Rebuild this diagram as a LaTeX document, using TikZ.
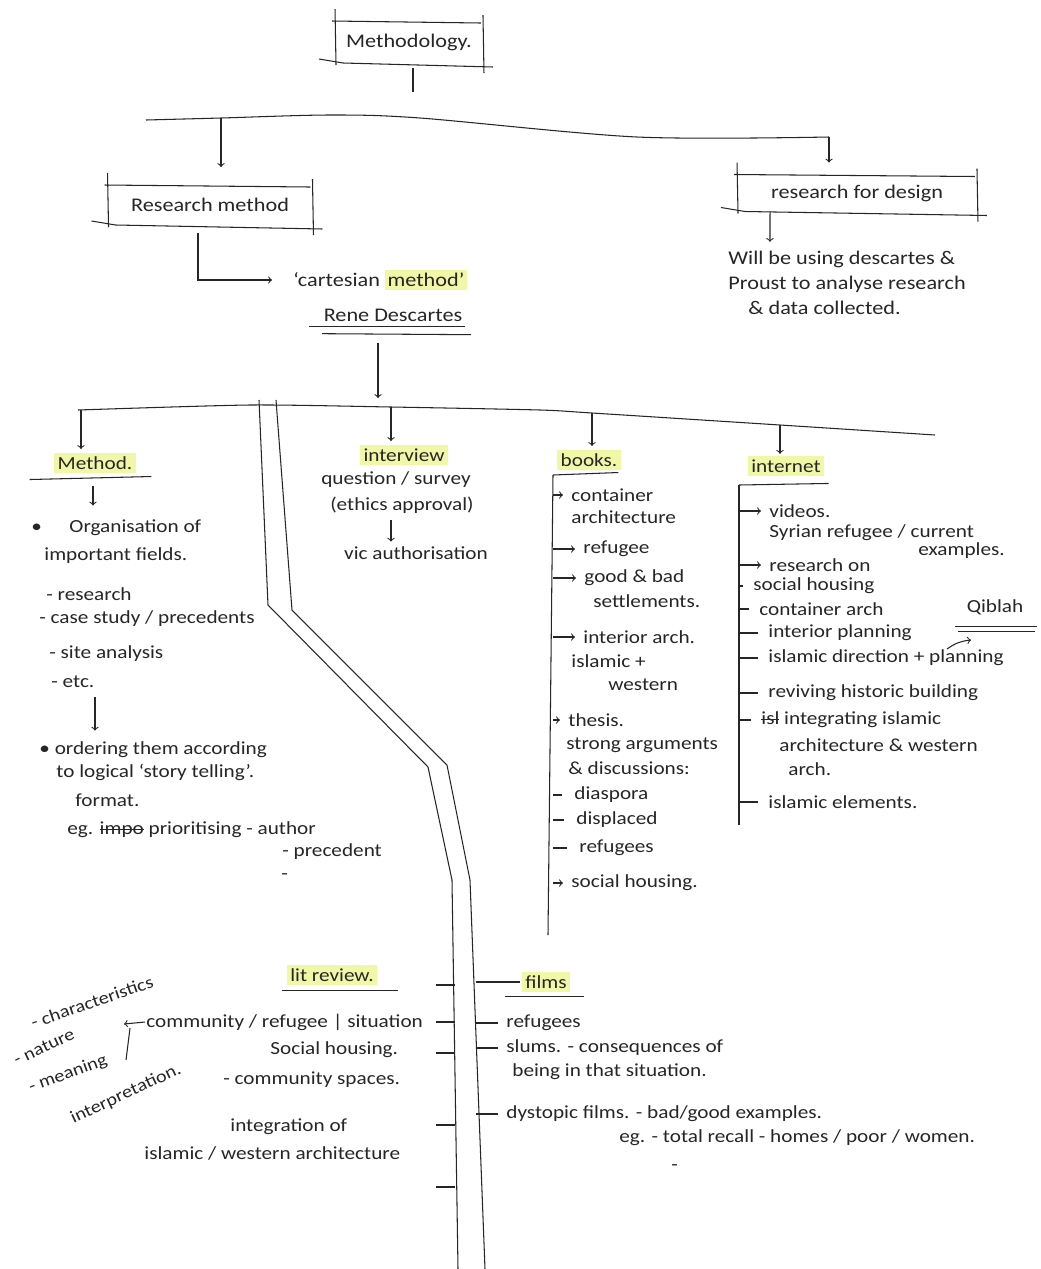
\documentclass[tikz,border=0pt]{standalone}
\usepackage{fontspec}
\setmainfont{Carlito}[FakeStretch=1.15]
\usepackage{tikz}
\usetikzlibrary{positioning}
\definecolor{ink}{RGB}{38,38,38}
\definecolor{hilite}{RGB}{240,248,168}
\newcommand{\handsize}{\fontsize{10.5pt}{12.5pt}\selectfont}
\newcommand{\marked}[1]{{\setlength{\fboxsep}{1.5pt}\colorbox{hilite}{#1}}}
\newsavebox{\strikebox}
\newcommand{\struck}[1]{\sbox{\strikebox}{#1}\rlap{\rule[0.55ex]{\wd\strikebox}{0.6pt}}\usebox{\strikebox}}
\newcommand{\roughbox}[1]{%
  \draw ([shift={(0,-12)}]#1.north west) -- ([shift={(1,2)}]#1.south west);
  \draw ([shift={(-3,0)}]#1.north west) -- ([shift={(-2,2)}]#1.north east);
  \draw ([shift={(0,-6)}]#1.north east) -- ([shift={(1,10)}]#1.south east);
  \draw ([shift={(-16,-4)}]#1.south west) -- ([shift={(8,0)}]#1.south west) -- ([shift={(10,4)}]#1.south east);
}
\begin{document}
\begin{tikzpicture}[x=0.02cm,y=-0.02cm,color=ink,line width=0.6pt,
note/.style={font=\handsize,inner sep=0.5pt,anchor=west},
mid note/.style={font=\handsize,inner sep=0.5pt},
slant note/.style={font=\fontsize{10pt}{12pt}\selectfont,inner sep=0pt},
tag/.style={font=\handsize,fill=hilite,inner sep=2pt},
rough box/.style={font=\fontsize{11pt}{13pt}\selectfont,inner sep=0,outer sep=0}]
\useasboundingbox (0,0) rectangle (1041,1269);
\fill[white] (0,0) rectangle (1041,1269);
%==================
\node[rough box,minimum width=2.96cm,minimum height=0.84cm] (meth) at (409,42) {Methodology.};
\roughbox{meth}
\draw ([shift={(4,5)}]meth.south) -- ([shift={(4,29)}]meth.south);
\coordinate (busA) at (221,118);
\coordinate (busB) at (829,137);
\draw plot[smooth,tension=0.5] coordinates {(146,120) (busA) (330,115) (420,118) (637,137) (busB)};
\node[rough box,minimum width=4.1cm,minimum height=0.8cm] (resm) at (210,205) {Research method};
\roughbox{resm}
\node[rough box,minimum width=4.8cm,minimum height=0.74cm] (rfd) at (857,193) {research for design};
\roughbox{rfd}
\draw[->,shorten >=0.36cm] (busA) -- (busA |- resm.north);
\draw[->,shorten >=0.24cm] (busB) -- (busB |- rfd.north);
\node[note,align=left,font=\fontsize{11pt}{14.2pt}\selectfont] (will) at (727,283) {Will be using descartes \& \\ Proust to analyse research \\ \hspace*{0.4cm}\& data collected.};
\draw[->] ([shift={(33,0)}]rfd.south west) -- ([shift={(43,-8)}]will.north west);
%==================
\node[note,font=\fontsize{11pt}{13pt}\selectfont] (cart) at (292,280) {`cartesian \marked{method'}};
\node[mid note,font=\fontsize{11pt}{13pt}\selectfont] (rene) at (393,315) {Rene Descartes};
\draw[->] ([shift={(-12,8)}]resm.south) |- ([xshift=-0.4cm]cart.west);
\draw ([shift={(-84,4)}]rene.south) -- ([shift={(72,4)}]rene.south);
\draw ([shift={(-71,11)}]rene.south) -- ([shift={(78,12)}]rene.south);
\coordinate (busC) at (378,398);
\draw[->] ([shift={(-15,20)}]rene.south) -- (busC);
%==================
\coordinate (j1) at (81,410);
\coordinate (j2) at (391,407);
\coordinate (j3) at (592,413);
\coordinate (j4) at (780,425);
\draw plot[smooth,tension=0.4] coordinates {(78,410) (250,405) (j2) (540,410) (j3) (j4) (935,435)};
% road
\draw (259,400) -- (268,605) -- (428,767) -- (452,880) -- (458,1269);
\draw (276,400) -- (292,610) -- (447,765) -- (470,880) -- (485,1269);
\coordinate (roadL) at (455,880);
\coordinate (roadR) at (476,880);
%==================
\node[tag] (methd) at (95,463) {Method.};
\draw[->,shorten >=2pt] (j1) -- (j1 |- methd.north);
\draw ([shift={(-24,6)}]methd.south west) -- ([shift={(15,3)}]methd.south east);
\draw[->] ([shift={(-2,12)}]methd.south) -- ([shift={(-2,32)}]methd.south);
\foreach \x/\y/\t [count=\i] in {30/528/{\textbullet\hspace{0.55cm}Organisation of},
  43/556/{important fields.}, 45/594/{- research}, 38/619/{- case study / precedents},
  48/654/{- site analysis}, 50/682/{- etc.}, 38/750/{\textbullet\ ordering them according},
  55/772/{to logical `story telling'.}, 74/800/{format.},
  66/830/{eg. \struck{impo} prioritising - author}, 281/852/{- precedent}, 280/877/{-}}{
  \node[note] (m\i) at (\x,\y) {\t};
}
\draw[->] ([shift={(45,8)}]m6.south west) -- ([shift={(57,-10)}]m7.north west);
%==================
\node[tag] (intv) at (404,455) {interview};
\draw[->,shorten >=2pt] (j2) -- (j2 |- intv.north);
\node[mid note] (q1) at (396,480) {question / survey};
\node[mid note] (q2) at (402,505) {(ethics approval)};
\node[mid note] (q3) at (416,553) {vic authorisation};
\draw[->,shorten <=3pt,shorten >=2pt] (j2 |- q2.south) -- (j2 |- q3.north);
%==================
\node[tag] (bks) at (589,460) {books.};
\draw[->,shorten >=2pt] (j3) -- (j3 |- bks.north);
\coordinate (bkTop) at (553,475);
\coordinate (bkEnd) at (548,935);
\draw (bkTop) -- (bkEnd);
\draw (bkTop) -- ([shift={(-3,2)}]bks.south east);
\foreach \x/\y/\t [count=\i] in {570/495/container, 570/517/architecture, 582/549/refugee,
  583/578/{good \& bad}, 592/601/settlements., 582/637/{interior arch.}, 570/661/{islamic +},
  607/685/western, 567/720/thesis., 565/745/{strong arguments}, 567/768/{\& discussions:},
  573/795/diaspora, 575/820/displaced, 578/848/refugees, 570/883/{social housing.}}{
  \node[note] (bk\i) at (\x,\y) {\t};
}
\foreach \i in {1,3,4,6,9,15}
  \draw[->,shorten >=4pt] (bkTop |- bk\i.west) -- (bk\i.west);
\foreach \i in {12,13,14}
  \draw[shorten >=6pt] (bkTop |- bk\i.west) -- (bk\i.west);
%==================
\node[tag] (inet) at (786,466) {internet};
\draw[->,shorten >=1pt] (j4) -- (j4 |- inet.north);
\coordinate (inTop) at (739,485);
\coordinate (inEnd) at (739,825);
\draw (inTop) -- (inEnd);
\draw (inTop) -- ([shift={(4,7)}]inet.south east);
\foreach \x/\y/\t [count=\i] in {768/511/videos., 768/533/{Syrian refugee / current},
  917/551/examples., 768/565/{research on}, 752/586/{social housing}, 758/609/{container arch},
  767/633/{interior planning}, 767/658/{islamic direction + planning},
  767/693/{reviving historic building}, 760/720/{\struck{isl} integrating islamic},
  778/745/{architecture \& western}, 787/769/arch., 767/802/{islamic elements.}}{
  \node[note] (in\i) at (\x,\y) {\t};
}
\foreach \i in {1,4}
  \draw[->,shorten >=4pt] (inTop |- in\i.west) -- (in\i.west);
\foreach \i in {5,6,7,8,9,10,13}
  \draw[shorten >=5pt] (inTop |- in\i.west) -- (in\i.west);
\node[mid note] (qib) at (995,607) {Qiblah};
\draw ([shift={(-40,10)}]qib.south) -- ([shift={(42,10)}]qib.south);
\draw ([shift={(-37,15)}]qib.south) -- ([shift={(40,15)}]qib.south);
\draw[->] ([shift={(-58,-9)}]in8.east) to[bend left=15] ([shift={(-24,24)}]qib.south);
%==================
\node[tag] (lit) at (332,975) {lit review.};
\draw ([shift={(-50,5)}]lit.south) -- ([shift={(66,5)}]lit.south);
\node[tag] (flm) at (546,982) {films};
\draw[shorten >=1pt] (roadR |- flm.west) -- (flm.west);
\draw ([shift={(-41,4)}]flm.south) -- ([shift={(38,4)}]flm.south);
\node[note] (comm) at (145,1022) {community / refugee | situation};
\node[note] (soch) at (269,1050) {Social housing.};
\node[note] (csp) at (222,1080) {- community spaces.};
\node[note] (int1) at (229,1127) {integration of};
\node[note] (int2) at (143,1153) {islamic / western architecture};
\foreach \y in {985,1022,1053,1125,1187}
  \draw (436,\y) -- (roadL |- 0,\y);
\coordinate (brk) at (124,1024);
\coordinate (brkEnd) at (126,1060);
\draw[->] (comm.west) -- (brk);
\draw ([shift={(6,4)}]brk) -- (brkEnd);
\node[slant note,rotate=19] (chr) at (92,1002) {- characteristics};
\node[slant note,rotate=25] (nat) at (44,1047) {- nature};
\node[slant note,rotate=20] (mean) at (68,1074) {- meaning};
\node[slant note,rotate=25] (intp) at (126,1094) {interpretation.};
%==================
\node[note] (ref) at (505,1023) {refugees};
\node[note] (slum) at (505,1048) {slums. - consequences of};
\node[note] (being) at (511,1072) {being in that situation.};
\node[note] (dys) at (505,1114) {dystopic films. - bad/good examples.};
\node[note] (eg) at (618,1138) {eg. - total recall - homes / poor / women.};
\node[note] (egd) at (670,1168) {-};
\foreach \n in {ref,slum,dys}
  \draw[shorten >=4pt] (roadR |- \n.west) -- (\n.west);
\end{tikzpicture}
\end{document}
